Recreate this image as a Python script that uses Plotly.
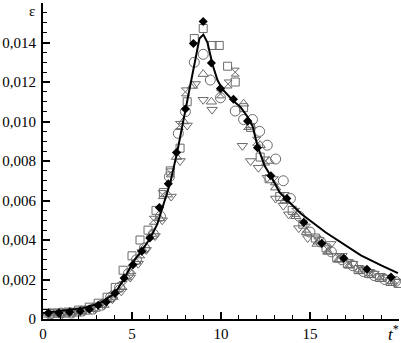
import plotly.graph_objects as go

# ---- data ----
t_line = [0, 1, 2.25, 3.2, 4.05, 4.6, 5.07, 5.58, 6.03, 6.42, 6.76, 7.15, 7.55, 8.0, 8.45, 8.79, 9.01,
          9.24, 9.52, 9.8, 10.08, 10.37, 10.65, 11.1, 11.5, 11.77, 12.05, 12.45, 12.79, 13.3, 13.75,
          14.48, 15.89, 17.0, 17.86, 19.0, 19.94]
e_line = [0.0003, 0.0004, 0.00055, 0.0008, 0.0013, 0.0021, 0.0029, 0.0035, 0.0041, 0.0048, 0.0058,
          0.0069, 0.0085, 0.0106, 0.0128, 0.0142, 0.0144, 0.0140, 0.0129, 0.0121, 0.01164, 0.01134,
          0.01108, 0.01073, 0.01023, 0.00977, 0.00877, 0.00776, 0.00725, 0.0064, 0.0060, 0.00534,
          0.00438, 0.00373, 0.00322, 0.00272, 0.00232]

t_dia = [0.3, 0.9, 1.5, 2.1, 2.6, 3.1, 3.55, 4.05, 4.56, 5.05, 5.55, 6.0, 6.54, 7.04, 7.5, 8.0, 8.45,
         9.0, 9.46, 9.97, 10.7, 11.5, 12.05, 12.8, 13.7, 14.65, 15.66, 16.9, 18.2, 19.55]
e_dia = [0.0003, 0.0003, 0.00035, 0.0004, 0.0005, 0.0007, 0.00086, 0.0013, 0.00207, 0.00275, 0.00343,
         0.0041, 0.00564, 0.00685, 0.00843, 0.01063, 0.01395, 0.01506, 0.01296, 0.01167, 0.01113,
         0.01003, 0.00867, 0.00725, 0.0061, 0.00489, 0.00383, 0.00307, 0.00252, 0.00212]

t_sq = [0.2, 0.8, 1.4, 2.0, 2.6, 3.1, 3.6, 4.06, 4.5, 5.0, 5.45, 5.9, 6.35, 6.76, 7.15, 7.7, 8.1, 8.5,
        9.0, 9.5, 9.9, 10.37, 10.8, 11.27, 11.66, 12.2, 12.7, 13.3, 14.0, 14.6, 15.3, 15.9, 16.5,
        17.1, 17.7, 18.3, 18.9, 19.5, 19.95]
e_sq = [0.0003, 0.0003, 0.00035, 0.00045, 0.0006, 0.0008, 0.0011, 0.0016, 0.00247, 0.0032, 0.0040,
        0.0045, 0.0055, 0.0064, 0.0075, 0.00865, 0.0110, 0.0142, 0.01471, 0.01385, 0.01385, 0.0128,
        0.0120, 0.0107, 0.0097, 0.0082, 0.0071, 0.0062, 0.0055, 0.0048, 0.0041, 0.0036, 0.0031,
        0.0028, 0.0025, 0.0023, 0.0021, 0.0019, 0.0018]

t_ci = [0.4, 1.0, 1.6, 2.2, 2.8, 3.3, 3.8, 4.3, 4.8, 5.25, 5.7, 6.2, 6.6, 7.1, 7.6, 8.0, 8.5, 9.0, 9.4,
        9.97, 10.8, 11.27, 11.77, 12.17, 12.6, 13.07, 13.5, 13.9, 14.4, 15.0, 15.6, 16.2, 16.8, 17.4,
        18.0, 18.6, 19.2, 19.8]
e_ci = [0.00025, 0.0003, 0.0003, 0.0004, 0.0005, 0.0007, 0.0011, 0.0016, 0.0023, 0.0030, 0.0036,
        0.0043, 0.0052, 0.0072, 0.0094, 0.0105, 0.0130, 0.0134, 0.0121, 0.0112, 0.01053, 0.0101,
        0.0101, 0.0095, 0.0088, 0.0081, 0.0070, 0.0061, 0.0052, 0.0044, 0.0039, 0.0034, 0.0030,
        0.0027, 0.0024, 0.0022, 0.0020, 0.0019]

t_tu = [0.3, 0.9, 1.5, 2.1, 2.7, 3.2, 3.7, 4.2, 4.7, 5.2, 5.6, 6.1, 6.55, 7.0, 7.5, 7.9, 8.4, 9.0,
        9.46, 11.27, 11.66, 12.2, 12.7, 13.07, 13.6, 14.2, 14.8, 15.4, 16.0, 16.6, 17.2, 17.8, 18.4,
        19.0, 19.6]
e_tu = [0.0003, 0.0003, 0.00035, 0.0004, 0.0005, 0.0007, 0.0010, 0.0015, 0.0021, 0.0029, 0.0035,
        0.0043, 0.0051, 0.0063, 0.0082, 0.0100, 0.0118, 0.0124, 0.0110, 0.0109, 0.0098, 0.0088,
        0.0080, 0.00665, 0.0060, 0.0052, 0.0044, 0.0038, 0.0034, 0.0030, 0.0027, 0.0025, 0.0023,
        0.0021, 0.0019]

t_td = [0.5, 1.1, 1.7, 2.3, 2.9, 3.4, 3.9, 4.4, 4.9, 5.35, 5.8, 6.3, 6.7, 7.2, 7.7, 8.1, 8.56, 9.0,
        9.5, 11.2, 11.66, 12.1, 12.6, 13.07, 13.5, 13.8, 14.37, 14.87, 15.5, 16.17, 16.8, 17.4, 18.0,
        18.6, 19.2, 19.8]
e_td = [0.0002, 0.00025, 0.0003, 0.0004, 0.0005, 0.0007, 0.0010, 0.0014, 0.0021, 0.0028, 0.0035,
        0.0042, 0.0050, 0.0062, 0.0080, 0.0098, 0.0119, 0.0111, 0.0106, 0.00877, 0.0080, 0.00766,
        0.00715, 0.0061, 0.00574, 0.0053, 0.0046, 0.0041, 0.0040, 0.0038, 0.0032, 0.0028, 0.0025,
        0.0023, 0.0021, 0.0019]

t_hg = [0.6, 1.3, 1.9, 2.5, 3.0, 3.5, 4.0, 4.5, 5.0, 5.5, 6.2, 6.7, 7.15, 7.66, 8.0, 9.97, 10.4,
        10.8, 11.5, 12.0, 12.5, 13.0, 13.6, 14.2, 14.8, 15.4, 16.0, 16.6, 17.2, 17.8, 18.4, 19.0, 19.6]
e_hg = [0.0003, 0.0003, 0.00035, 0.00045, 0.0006, 0.0008, 0.0012, 0.0017, 0.0025, 0.0033, 0.0050,
        0.0063, 0.0074, 0.0098, 0.0115, 0.0114, 0.0119, 0.0125, 0.0098, 0.0090, 0.0080, 0.0070,
        0.0062, 0.0054, 0.0046, 0.0040, 0.0035, 0.0031, 0.0028, 0.0025, 0.0023, 0.0021, 0.0019]

y_ticks = [0, 0.002, 0.004, 0.006, 0.008, 0.010, 0.012, 0.014]
y_labels = ["0", "0,002", "0,004", "0,006", "0,008", "0,010", "0,012", "0,014"]
x_ticks = [0, 5, 10, 15]
x_labels = ["0", "5", "10", "15"]

GRAY = "#6a6a6a"
fig = go.Figure()

open_series = [
    (t_sq, e_sq, "square-open", 8),
    (t_ci, e_ci, "circle-open", 10),
    (t_tu, e_tu, "triangle-up-open", 9),
    (t_td, e_td, "triangle-down-open", 9),
    (t_hg, e_hg, "hourglass-open", 8),
]
for tx, ey, sym, sz in open_series:
    fig.add_trace(go.Scatter(x=tx, y=ey, mode="markers",
                             marker=dict(symbol=sym, size=sz, color=GRAY, line=dict(color=GRAY, width=1)),
                             showlegend=False, cliponaxis=False))

fig.add_trace(go.Scatter(x=t_line, y=e_line, mode="lines", line=dict(color="black", width=2),
                         showlegend=False))
fig.add_trace(go.Scatter(x=t_dia, y=e_dia, mode="markers",
                         marker=dict(symbol="diamond", size=7, color="black"),
                         showlegend=False, cliponaxis=False))

font = dict(family="Liberation Serif", size=15, color="black")
font_t = dict(family="Liberation Serif", size=17, color="black")
fig.update_layout(
    width=401, height=343,
    margin=dict(l=43, r=2, t=3, b=24),
    paper_bgcolor="white", plot_bgcolor="white",
    font=font,
    xaxis=dict(range=[0, 20], tickvals=x_ticks, ticktext=x_labels, ticks="inside", ticklen=7,
               tickwidth=2, tickcolor="black", showline=True, linecolor="black", linewidth=2,
               showgrid=False, zeroline=False, tickfont=font,
               minor=dict(dtick=1, ticks="inside", ticklen=4, tickwidth=1, tickcolor="black")),
    yaxis=dict(range=[0, 0.016], tickvals=y_ticks, ticktext=y_labels, ticks="inside", ticklen=7,
               tickwidth=2, tickcolor="black", showline=True, linecolor="black", linewidth=2,
               showgrid=False, zeroline=False, ticklabelstandoff=2, tickfont=font,
               minor=dict(dtick=0.0005, ticks="inside", ticklen=4, tickwidth=1, tickcolor="black")),
    annotations=[
        dict(text="ε", x=0, y=1.0, xref="paper", yref="paper", xanchor="right", yanchor="top",
             xshift=-6, yshift=2, showarrow=False, font=font),
        dict(text="<i>t</i><sup>*</sup>", x=20, y=0, xref="x", yref="paper", xanchor="center",
             yanchor="top", yshift=-1, xshift=-6, showarrow=False, font=font_t),
    ],
)
fig.write_html("out.html", config={"displayModeBar": False},
               post_script="document.body.style.margin='0';document.body.style.overflow='hidden';")
